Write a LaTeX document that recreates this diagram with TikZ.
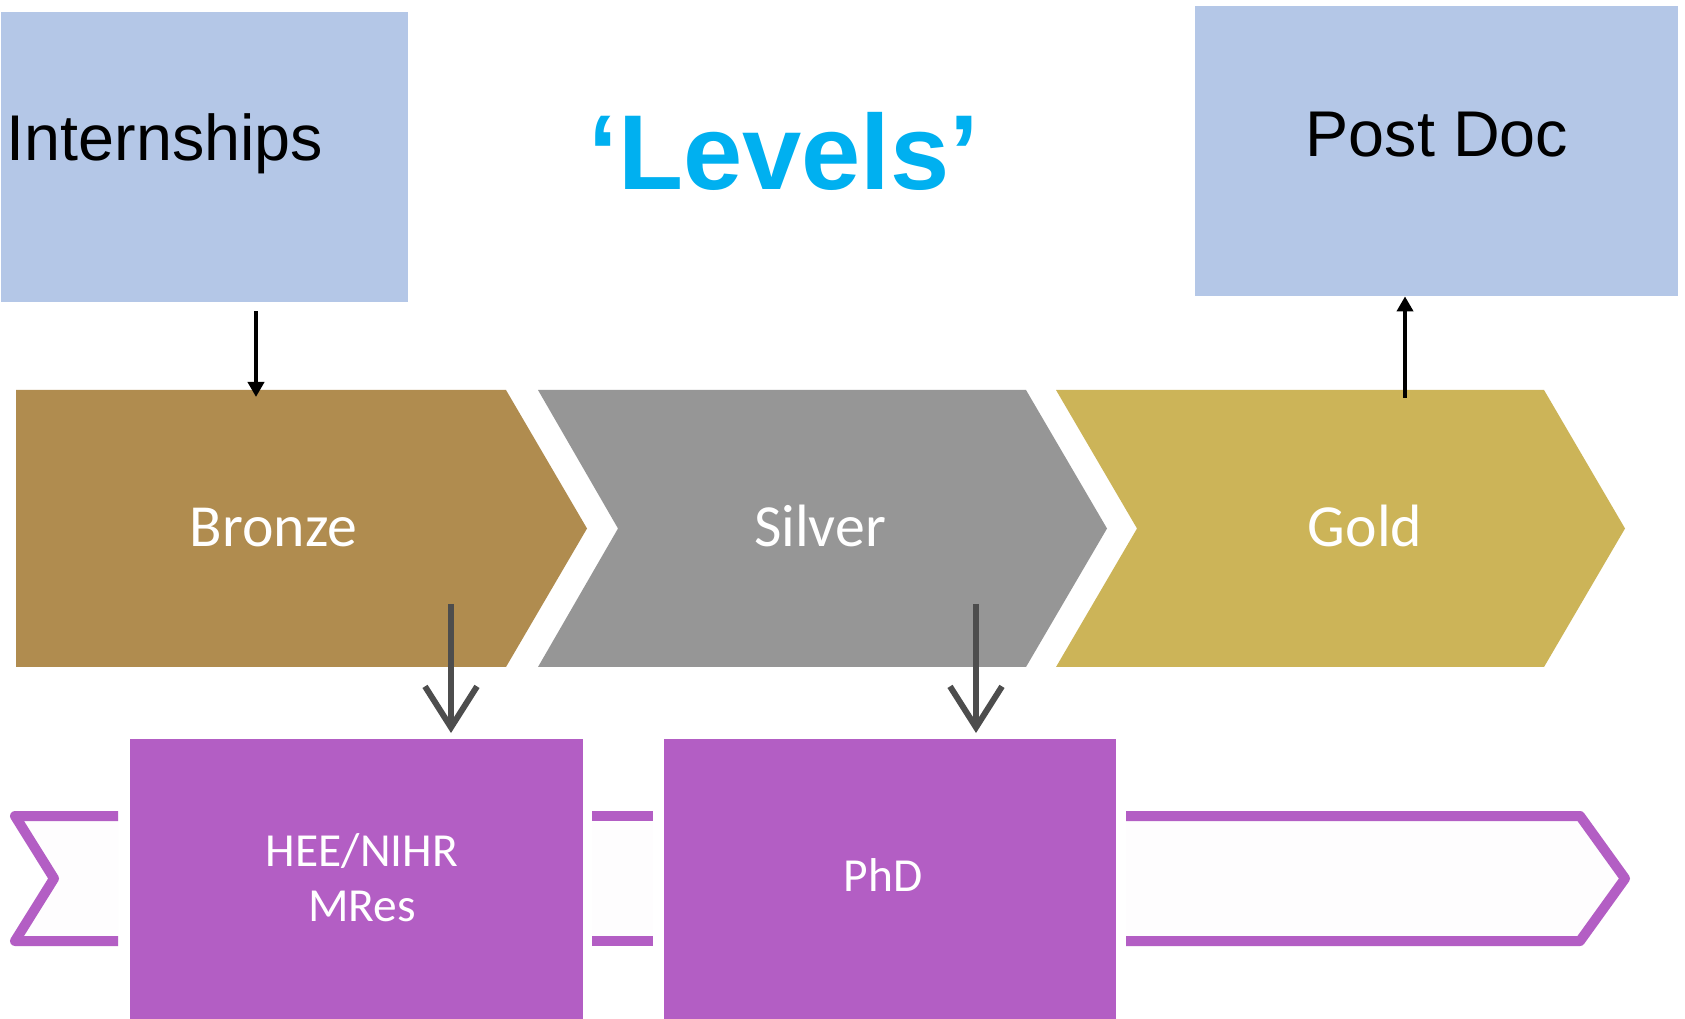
\documentclass[tikz,border=0pt]{standalone}
\usepackage{fontspec}
\setmainfont{Liberation Sans}
\newfontfamily\calib{Carlito}
\usetikzlibrary{arrows.meta}
\definecolor{boxblue}{HTML}{B4C7E7}
\definecolor{levelcyan}{HTML}{00B0F0}
\definecolor{bronzec}{HTML}{B08C4F}
\definecolor{silverc}{HTML}{969696}
\definecolor{goldc}{HTML}{CCB458}
\definecolor{ribpurple}{HTML}{B35EC4}
\definecolor{arrowgray}{HTML}{4D4D4D}
\definecolor{ribbg}{HTML}{FEFDFE}
\tikzset{
  bluebox/.style={fill=boxblue, draw=none, inner sep=0pt, anchor=north west},
  pbox/.style={fill=ribpurple, draw=none, inner sep=0pt, anchor=north west},
  ptxt/.style={inner sep=0pt, anchor=base, text=white, font=\calib\fontsize{13.5pt}{15.6pt}\selectfont},
  bigtxt/.style={inner sep=0pt, anchor=base, text=black, font=\fontsize{18.4pt}{22pt}\selectfont},
  titletxt/.style={inner sep=0pt, anchor=base, text=levelcyan, font=\fontsize{30.3pt}{36pt}\selectfont\bfseries},
  chevtxt/.style={inner sep=0pt, anchor=base, text=white, font=\calib\fontsize{17pt}{20pt}\selectfont},
  ribbon/.style={draw=ribpurple, line width=1mm, line join=round},
  blkarrow/.style={draw=black, line width=0.4mm, -{Triangle[length=1.5mm,width=1.6mm]}},
  grayarrow/.style={draw=arrowgray, line width=0.6mm, -{Straight Barb[length=4.1mm,width=5.2mm]}}
}
\begin{document}
\begin{tikzpicture}[x=0.1mm,y=-0.1mm]
\useasboundingbox (0,0) rectangle (1685,1019);
\fill[white] (0,0) rectangle (1685,1019);

% top boxes
\node[bluebox, minimum width=40.7mm, minimum height=29.0mm] (intern) at (0,11) {};
\node[bluebox, minimum width=48.3mm, minimum height=29.0mm] (postdoc) at (1194,5) {};
\node[bigtxt] (internT) at (165,161) {Internships};
\node[bigtxt] (postdocT) at (1437,157) {Post Doc};
\node[titletxt] (title) at (784,190) {‘Levels’};

% chevrons
\fill[bronzec] (16,390) -- (506,390) -- (587,528.5) -- (506,667) -- (16,667) -- cycle;
\fill[silverc] (538,390) -- (1026,390) -- (1107,528.5) -- (1026,667) -- (538,667) -- (618,528.5) -- cycle;
\fill[goldc] (1056,390) -- (1544,390) -- (1625,528.5) -- (1544,667) -- (1056,667) -- (1137,528.5) -- cycle;
\node[chevtxt] (bronze) at (273.5,547) {Bronze};
\node[chevtxt] (silver) at (820,547) {Silver};
\node[chevtxt] (gold) at (1365,547) {Gold};

% ribbon
\fill[ribbg] (118,816) -- (15,816) -- (54,878.5) -- (15,941) -- (118,941) -- cycle;
\fill[ribbg] (592,816) rectangle (653,941);
\fill[ribbg] (1126,816) -- (1580,816) -- (1625,878.5) -- (1580,941) -- (1126,941) -- cycle;
\draw[ribbon] (118,816) -- (15,816) -- (54,878.5) -- (15,941) -- (118,941);
\draw[ribbon] (592,816) -- (653,816);
\draw[ribbon] (592,941) -- (653,941);
\draw[ribbon] (1126,816) -- (1580,816) -- (1625,878.5) -- (1580,941) -- (1126,941);

% purple boxes
\node[pbox, minimum width=45.3mm, minimum height=28.1mm] (mres) at (129,738) {};
\node[pbox, minimum width=45.2mm, minimum height=28.1mm] (phd) at (663,738) {};
\node[ptxt] (mresT1) at (362,866) {HEE/NIHR};
\node[ptxt] (mresT2) at (362,921) {MRes};
\node[ptxt] (phdT) at (883,891) {PhD};

% connectors
\coordinate (bzIn) at (256,397);
\draw[blkarrow] ([yshift=-0.9mm]intern.south -| bzIn) -- (bzIn);
\coordinate (gdOut) at (1405,398);
\draw[blkarrow] (gdOut) -- (postdoc.south -| gdOut);
\coordinate (bzDown) at (451,604);
\draw[grayarrow] (bzDown) -- ([yshift=0.5mm]mres.north -| bzDown);
\coordinate (svDown) at (976,604);
\draw[grayarrow] (svDown) -- ([yshift=0.5mm]phd.north -| svDown);
\end{tikzpicture}
\end{document}
